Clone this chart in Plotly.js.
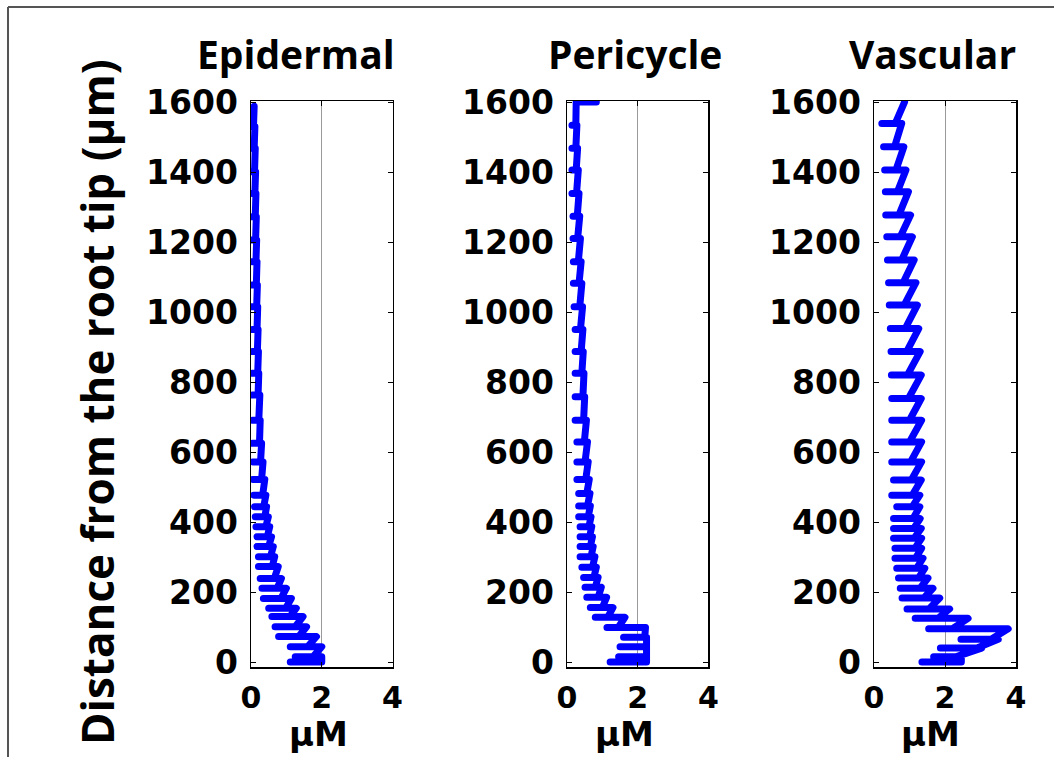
<!DOCTYPE html>
<html>
<head>
<meta charset="utf-8">
<script src="https://cdn.plot.ly/plotly-3.0.1.min.js"></script>
<style>
html,body{margin:0;padding:0;background:#fff;}
#chart{width:1054px;height:757px;}
#chart path.js-line{stroke-linejoin:round !important;stroke-linecap:round !important;}
</style>
</head>
<body>
<div id="chart"></div>
<script>
// ---------------- DATA ----------------
const panelTitles = ["Epidermal", "Pericycle", "Vascular"];
const yTitle = "Distance from the root tip (μm)";
const xTitle = "μM";
const yTickVals = [0, 200, 400, 600, 800, 1000, 1200, 1400, 1600];
const xTickVals = [0, 2, 4];

// Epidermal: cell boundaries (μm), wall values at boundaries, cell bottom/top values (μM)
const epiBounds = [0, 15, 44, 73, 101, 130, 154, 182, 211, 239, 273, 301, 330, 358, 387, 415, 444, 477, 522, 572, 625, 691, 763, 825, 887, 950, 1015, 1077, 1144, 1206, 1272, 1339, 1401, 1468, 1530, 1588];
const epiWall   = [1.11, 1.25, 1.11, 0.78, 0.68, 0.59, 0.50, 0.35, 0.31, 0.26, 0.21, 0.21, 0.17, 0.17, 0.14, 0.12, 0.10, 0.08, 0.05, 0.05, 0.04, 0.04, 0.03, 0.03, 0.03, 0.03, 0.02, 0.02, 0.02, 0.02, 0.02, 0.02, 0.02, 0.02, 0.02, null];
const epiBot    = [2.0, 1.75, 1.6, 1.35, 1.25, 1.1, 0.98, 0.85, 0.74, 0.66, 0.6, 0.55, 0.5, 0.46, 0.42, 0.39, 0.36, 0.33, 0.3, 0.27, 0.24, 0.22, 0.2, 0.19, 0.18, 0.17, 0.16, 0.15, 0.14, 0.13, 0.12, 0.11, 0.10, 0.09, 0.07];
const epiTop    = [2.0, 2.0, 1.85, 1.57, 1.47, 1.28, 1.14, 1.0, 0.86, 0.77, 0.67, 0.63, 0.58, 0.53, 0.49, 0.44, 0.42, 0.39, 0.34, 0.30, 0.26, 0.25, 0.22, 0.21, 0.2, 0.19, 0.18, 0.17, 0.16, 0.15, 0.14, 0.13, 0.12, 0.11, 0.09];

// Pericycle
const periBounds = [0, 15, 44, 71, 99, 128, 156, 185, 214, 242, 271, 301, 330, 358, 387, 415, 446, 482, 522, 572, 629, 691, 758, 825, 887, 950, 1015, 1082, 1144, 1210, 1274, 1339, 1406, 1468, 1534, 1600];
const periWall   = [1.22, 1.46, 1.5, 1.6, 1.13, 0.80, 0.66, 0.56, 0.51, 0.47, 0.42, 0.37, 0.37, 0.37, 0.37, 0.33, 0.33, 0.33, 0.28, 0.28, 0.28, 0.23, 0.23, 0.23, 0.23, 0.23, 0.20, 0.18, 0.18, 0.17, 0.17, 0.14, 0.14, 0.14, 0.14, 0.83];
const periBot    = [2.25, 2.25, 2.25, 2.2, 1.45, 1.15, 1.0, 0.88, 0.8, 0.76, 0.72, 0.68, 0.66, 0.64, 0.62, 0.6, 0.58, 0.56, 0.53, 0.51, 0.49, 0.47, 0.45, 0.42, 0.40, 0.38, 0.36, 0.34, 0.32, 0.30, 0.29, 0.27, 0.26, 0.25, 0.25];
const periTop    = [2.25, 2.25, 2.25, 2.22, 1.64, 1.3, 1.12, 0.97, 0.88, 0.83, 0.79, 0.74, 0.72, 0.70, 0.68, 0.66, 0.65, 0.63, 0.60, 0.58, 0.55, 0.5, 0.48, 0.46, 0.45, 0.44, 0.42, 0.4, 0.38, 0.36, 0.34, 0.32, 0.30, 0.28, 0.26];

// Vascular
const vascBounds = [0, 15, 40, 65, 95, 125, 152, 183, 211, 240, 268, 297, 325, 354, 382, 410, 444, 477, 520, 572, 629, 691, 753, 820, 887, 953, 1020, 1084, 1149, 1215, 1277, 1344, 1406, 1472, 1539, 1600];
const vascWall   = [1.35, 1.68, 1.87, 2.45, 1.54, 1.16, 0.93, 0.79, 0.74, 0.69, 0.64, 0.59, 0.59, 0.55, 0.55, 0.55, 0.64, 0.50, 0.55, 0.50, 0.50, 0.50, 0.50, 0.49, 0.48, 0.46, 0.43, 0.41, 0.38, 0.36, 0.33, 0.32, 0.30, 0.27, 0.22, null];
const vascBot    = [2.46, 2.3, 2.9, 3.3, 2.2, 1.8, 1.55, 1.4, 1.3, 1.25, 1.2, 1.17, 1.15, 1.13, 1.12, 1.1, 1.08, 1.08, 1.05, 1.03, 1.0, 1.0, 0.97, 0.94, 0.92, 0.88, 0.85, 0.82, 0.78, 0.74, 0.70, 0.66, 0.62, 0.58, 0.6];
const vascTop    = [2.46, 3.03, 3.5, 3.78, 2.65, 2.13, 1.85, 1.66, 1.52, 1.43, 1.38, 1.34, 1.34, 1.33, 1.30, 1.29, 1.29, 1.33, 1.34, 1.34, 1.34, 1.33, 1.33, 1.30, 1.26, 1.22, 1.18, 1.13, 1.08, 1.03, 0.97, 0.90, 0.84, 0.78, 0.86];

// ---------------- BUILD LINES ----------------
function buildLine(bounds, wall, bot, top) {
  const xs = [], ys = [];
  for (let j = 0; j < bounds.length; j++) {
    if (j > 0) { xs.push(top[j - 1]); ys.push(bounds[j]); }
    if (wall[j] !== null) { xs.push(wall[j]); ys.push(bounds[j]); }
    if (j < bot.length) { xs.push(bot[j]); ys.push(bounds[j]); }
  }
  return {x: xs, y: ys};
}

const series = [
  buildLine(epiBounds, epiWall, epiBot, epiTop),
  buildLine(periBounds, periWall, periBot, periTop),
  buildLine(vascBounds, vascWall, vascBot, vascTop)
];

const W = 1054, H = 757;
const px = v => v / W;
const py = v => 1 - v / H;

const traces = series.map((s, i) => ({
  type: 'scatter', mode: 'lines',
  x: s.x, y: s.y,
  xaxis: i === 0 ? 'x' : 'x' + (i + 1),
  yaxis: i === 0 ? 'y' : 'y' + (i + 1),
  line: {color: '#0000ff', width: 7},
  hoverinfo: 'skip', showlegend: false
}));

const xDomains = [[px(251), px(392.5)], [px(567), px(708.4)], [px(874), px(1016)]];
const yDomain = [py(667), py(101)];

const tickFontY = {family: 'DejaVu Sans', size: 33, color: '#000', weight: 'bold'};
const tickFontX = {family: 'DejaVu Sans', size: 30, color: '#000', weight: 'bold'};

const layout = {
  width: W, height: H,
  margin: {l: 0, r: 0, t: 0, b: 0},
  paper_bgcolor: '#fff', plot_bgcolor: '#fff',
  showlegend: false,
  annotations: [],
  shapes: [
    {type: 'line', xref: 'paper', yref: 'paper', x0: px(8), x1: 1, y0: py(7), y1: py(7), line: {color: '#555', width: 2}},
    {type: 'line', xref: 'paper', yref: 'paper', x0: px(8), x1: px(8), y0: py(7), y1: 0, line: {color: '#555', width: 2}}
  ]
};

for (let i = 0; i < 3; i++) {
  const sx = i === 0 ? '' : String(i + 1);
  layout['xaxis' + sx] = {
    domain: xDomains[i], range: [0, 4], anchor: 'y' + sx,
    tickvals: xTickVals, ticktext: xTickVals.map(String),
    ticks: 'inside', ticklen: 5, tickcolor: '#000', tickwidth: 1,
    showline: true, linecolor: '#000', linewidth: 1.5, mirror: 'ticks',
    showgrid: true, gridcolor: '#9a9a9a', gridwidth: 1, zeroline: false,
    tickfont: tickFontX, ticklabelstandoff: 3, fixedrange: true
  };
  layout['yaxis' + sx] = {
    domain: yDomain, range: [-14, 1603], anchor: 'x' + sx,
    tickvals: yTickVals, ticktext: yTickVals.map(String),
    ticks: 'inside', ticklen: 5, tickcolor: '#000', tickwidth: 1,
    showline: true, linecolor: '#000', linewidth: 1.5, mirror: 'ticks',
    showgrid: false, zeroline: false,
    tickfont: tickFontY, ticklabelstandoff: 5, fixedrange: true
  };
}

const titleX = [296, 635, 932];
const xTitleX = [318, 624, 930];
for (let i = 0; i < 3; i++) {
  layout.annotations.push({
    xref: 'paper', yref: 'paper', x: px(titleX[i]), y: py(53),
    xanchor: 'center', yanchor: 'middle', showarrow: false,
    text: panelTitles[i],
    font: {family: 'Open Sans', size: 39, color: '#000', weight: 'bold'}
  });
  layout.annotations.push({
    xref: 'paper', yref: 'paper', x: px(xTitleX[i]), y: py(734),
    xanchor: 'center', yanchor: 'middle', showarrow: false,
    text: xTitle,
    font: {family: 'DejaVu Sans', size: 34, color: '#000', weight: 'bold'}
  });
}
layout.annotations.push({
  xref: 'paper', yref: 'paper', x: px(97), y: py(402),
  xanchor: 'center', yanchor: 'middle', showarrow: false, textangle: -90,
  text: yTitle,
  font: {family: 'Open Sans', size: 44, color: '#000', weight: 'bold'}
});

Plotly.newPlot('chart', traces, layout, {staticPlot: true, displayModeBar: false});
</script>
</body>
</html>
